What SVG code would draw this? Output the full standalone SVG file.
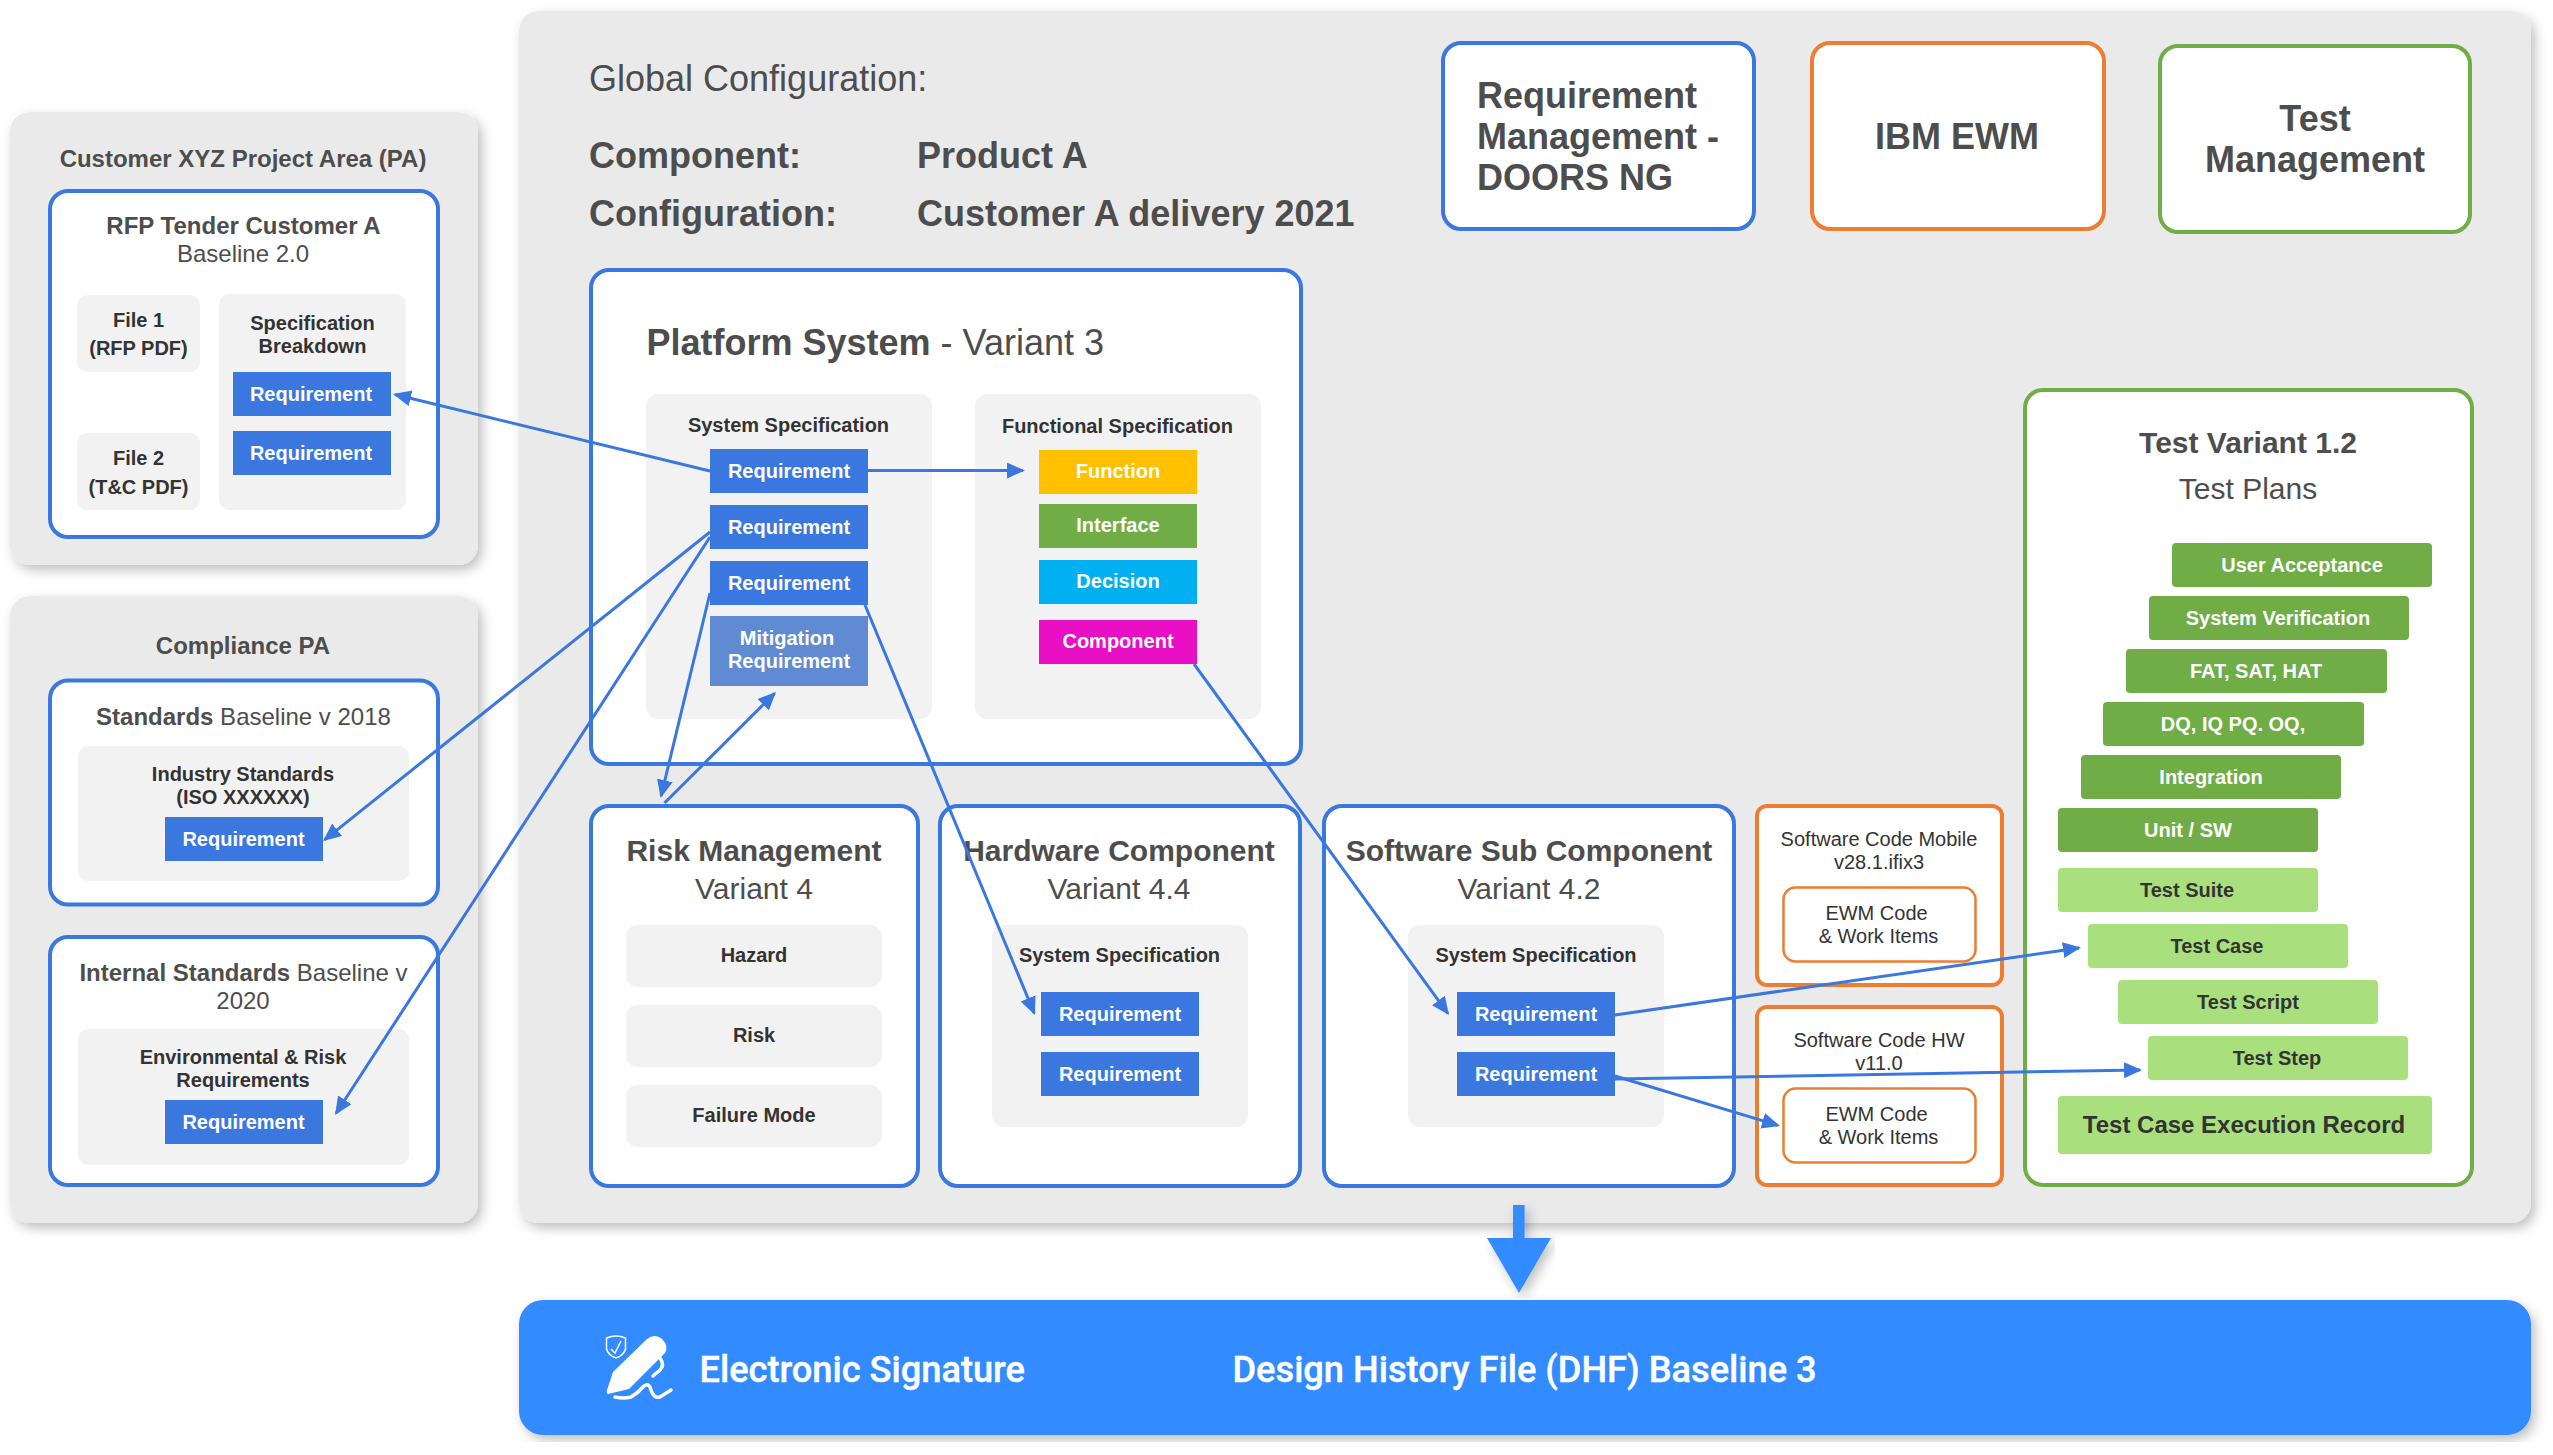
<svg xmlns="http://www.w3.org/2000/svg" width="2553" height="1455" viewBox="0 0 2553 1455">
<style>
text{font-family:"Liberation Sans",Arial,sans-serif}
.panel{fill:#eaeaea;filter:url(#sh)}
.bb{fill:#fff;stroke:#3a78e0;stroke-width:4}
.ob{fill:#fff;stroke:#ed7d31;stroke-width:4}
.oi{fill:#fff;stroke:#ed7d31;stroke-width:2.500}
.gb{fill:#fff;stroke:#70ad47;stroke-width:4}
.in{fill:#f2f2f2}
.req{fill:#3a78e0}
.dg{fill:#70ad47}
.lg{fill:#a9e07d}
.t24b{font-size:24px;font-weight:700;fill:#4d4d4d;text-anchor:middle}
.t24{font-size:24px;fill:#4d4d4d;text-anchor:middle}
.t30b{font-size:30px;font-weight:700;fill:#4d4d4d;text-anchor:middle}
.t30{font-size:30px;fill:#4d4d4d;text-anchor:middle}
.t36b{font-size:36px;font-weight:700;fill:#4d4d4d}
.t36{font-size:36px;fill:#4d4d4d}
.c{text-anchor:middle}
.s20{font-size:20px;font-weight:700;fill:#333;text-anchor:middle}
.w20{font-size:20px;font-weight:700;fill:#fff;text-anchor:middle}
.r20{font-size:20px;fill:#333;text-anchor:middle}
.foot{font-family:Roboto,"Liberation Sans",sans-serif;font-size:36.200px;font-weight:500;fill:#fff;stroke:#fff;stroke-width:0.400}
.con{fill:none;stroke:#3a78e0;stroke-width:3;marker-end:url(#ah)}
</style>
<defs>
<filter id="sh" x="-5%" y="-5%" width="110%" height="110%"><feDropShadow dx="4" dy="5" stdDeviation="6" flood-color="#000" flood-opacity="0.25"/></filter>
<marker id="ah" markerUnits="userSpaceOnUse" markerWidth="20" markerHeight="18" refX="16" refY="8" orient="auto"><path d="M0,0L18,8L0,16Z" fill="#3a78e0"/></marker>
</defs>

<g id="customer-pa">
<rect class="panel" x="10" y="112" width="468" height="453" rx="20"/>
<text class="t24b" x="243" y="167">Customer XYZ Project Area (PA)</text>
<rect class="bb" x="50" y="191" width="388" height="346" rx="18"/>
<text class="t24b" x="243.500" y="234">RFP Tender Customer A</text>
<text class="t24" x="243" y="262">Baseline 2.0</text>
<rect class="in" x="77" y="295" width="123" height="77" rx="10"/>
<text class="s20" x="138.500" y="327">File 1</text><text class="s20" x="138.500" y="355">(RFP PDF)</text>
<rect class="in" x="77" y="433" width="123" height="77" rx="10"/>
<text class="s20" x="138.500" y="465">File 2</text><text class="s20" x="138.500" y="494">(T&amp;C PDF)</text>
<rect class="in" x="219" y="294" width="187" height="216" rx="10"/>
<text class="s20" x="312.500" y="330">Specification</text><text class="s20" x="312.500" y="353">Breakdown</text>
<rect class="req" x="233" y="372" width="158" height="44"/><text class="w20" x="311" y="401">Requirement</text>
<rect class="req" x="233" y="431" width="158" height="44"/><text class="w20" x="311" y="460">Requirement</text>
</g>

<g id="compliance-pa">
<rect class="panel" x="10" y="596" width="468" height="627" rx="20"/>
<text class="t24b" x="243" y="654">Compliance PA</text>
<rect class="bb" x="50" y="680.500" width="388" height="224" rx="18"/>
<text class="t24" x="243.500" y="725"><tspan font-weight="700">Standards</tspan> Baseline v 2018</text>
<rect class="in" x="78" y="746" width="331" height="135" rx="10"/>
<text class="s20" x="243" y="781">Industry Standards</text><text class="s20" x="243" y="804">(ISO XXXXXX)</text>
<rect class="req" x="165" y="817" width="158" height="44"/><text class="w20" x="243.500" y="846">Requirement</text>
<rect class="bb" x="50" y="937" width="388" height="248" rx="18"/>
<text class="t24" x="243.500" y="981"><tspan font-weight="700">Internal Standards</tspan> Baseline v</text><text class="t24" x="243" y="1009">2020</text>
<rect class="in" x="78" y="1029" width="331" height="136" rx="10"/>
<text class="s20" x="243" y="1064">Environmental &amp; Risk</text><text class="s20" x="243" y="1087">Requirements</text>
<rect class="req" x="165" y="1100" width="158" height="44"/><text class="w20" x="243.500" y="1129">Requirement</text>
</g>

<g id="global-config">
<rect class="panel" x="519" y="11" width="2012" height="1212" rx="20"/>
<text class="t36" x="589" y="91">Global Configuration:</text>
<text class="t36b" x="589" y="168">Component:</text><text class="t36b" x="917" y="168">Product A</text>
<text class="t36b" x="589" y="226">Configuration:</text><text class="t36b" x="917" y="226">Customer A delivery 2021</text>
</g>

<g id="legend-doors">
<rect class="bb" x="1443" y="43" width="311" height="186" rx="18"/>
<text class="t36b" x="1477" y="108">Requirement</text><text class="t36b" x="1477" y="149">Management -</text><text class="t36b" x="1477" y="190">DOORS NG</text>
</g>
<g id="legend-ewm">
<rect class="ob" x="1812" y="43" width="292" height="186" rx="18"/>
<text class="t36b c" x="1957" y="149">IBM EWM</text>
</g>
<g id="legend-test">
<rect class="gb" x="2160" y="46" width="310" height="186" rx="18"/>
<text class="t36b c" x="2315" y="131">Test</text><text class="t36b c" x="2315" y="172">Management</text>
</g>

<g id="platform-system">
<rect class="bb" x="591" y="270" width="710" height="494" rx="18"/>
<text x="646.500" y="355" font-size="36" fill="#4d4d4d"><tspan font-weight="700">Platform System</tspan> - Variant 3</text>
<rect class="in" x="646" y="394" width="286" height="325" rx="12"/>
<text class="s20" x="788.500" y="432">System Specification</text>
<rect class="req" x="710" y="449" width="158" height="44"/><text class="w20" x="789" y="478">Requirement</text>
<rect class="req" x="710" y="505" width="158" height="44"/><text class="w20" x="789" y="534">Requirement</text>
<rect class="req" x="710" y="561" width="158" height="44"/><text class="w20" x="789" y="590">Requirement</text>
<rect x="710" y="616" width="158" height="70" fill="#608bd3"/><text class="w20" x="787" y="645">Mitigation</text><text class="w20" x="789" y="668">Requirement</text>
<rect class="in" x="975" y="394" width="286" height="325" rx="12"/>
<text class="s20" x="1117.500" y="433">Functional Specification</text>
<rect x="1039" y="450" width="158" height="44" fill="#ffc000"/><text class="w20" x="1118" y="478">Function</text>
<rect x="1039" y="504" width="158" height="44" fill="#70ad47"/><text class="w20" x="1118" y="532">Interface</text>
<rect x="1039" y="560" width="158" height="44" fill="#00b0f0"/><text class="w20" x="1118" y="588">Decision</text>
<rect x="1039" y="620" width="158" height="44" fill="#e90fc5"/><text class="w20" x="1118" y="648">Component</text>
</g>

<g id="risk-management">
<rect class="bb" x="591" y="806" width="327" height="380" rx="18"/>
<text class="t30b" x="754" y="861">Risk Management</text><text class="t30" x="754" y="899">Variant 4</text>
<rect class="in" x="626" y="925" width="256" height="62" rx="12"/><text class="s20" x="754" y="962">Hazard</text>
<rect class="in" x="626" y="1005" width="256" height="62" rx="12"/><text class="s20" x="754" y="1042">Risk</text>
<rect class="in" x="626" y="1085" width="256" height="62" rx="12"/><text class="s20" x="754" y="1122">Failure Mode</text>
</g>

<g id="hardware-component">
<rect class="bb" x="940" y="806" width="360" height="380" rx="18"/>
<text class="t30b" x="1119" y="861">Hardware Component</text><text class="t30" x="1119" y="899">Variant 4.4</text>
<rect class="in" x="992" y="925" width="256" height="202" rx="12"/>
<text class="s20" x="1119.500" y="962">System Specification</text>
<rect class="req" x="1041" y="992" width="158" height="44"/><text class="w20" x="1120" y="1021">Requirement</text>
<rect class="req" x="1041" y="1052" width="158" height="44"/><text class="w20" x="1120" y="1081">Requirement</text>
</g>

<g id="software-sub-component">
<rect class="bb" x="1324" y="806" width="410" height="380" rx="18"/>
<text class="t30b" x="1529" y="861">Software Sub Component</text><text class="t30" x="1529" y="899">Variant 4.2</text>
<rect class="in" x="1408" y="925" width="256" height="202" rx="12"/>
<text class="s20" x="1536" y="962">System Specification</text>
<rect class="req" x="1457" y="992" width="158" height="44"/><text class="w20" x="1536" y="1021">Requirement</text>
<rect class="req" x="1457" y="1052" width="158" height="44"/><text class="w20" x="1536" y="1081">Requirement</text>
</g>

<g id="software-code-mobile">
<rect class="ob" x="1757" y="806" width="245" height="179" rx="10"/>
<text class="r20" x="1879" y="846">Software Code Mobile</text><text class="r20" x="1879" y="869">v28.1.ifix3</text>
<rect class="oi" x="1783.500" y="887.500" width="192" height="74" rx="12"/>
<text class="r20" x="1876.500" y="920">EWM Code</text><text class="r20" x="1878.500" y="943">&amp; Work Items</text>
</g>
<g id="software-code-hw">
<rect class="ob" x="1757" y="1007" width="245" height="178" rx="10"/>
<text class="r20" x="1879" y="1047">Software Code HW</text><text class="r20" x="1879" y="1070">v11.0</text>
<rect class="oi" x="1783.500" y="1088.500" width="192" height="74" rx="12"/>
<text class="r20" x="1876.500" y="1121">EWM Code</text><text class="r20" x="1878.500" y="1144">&amp; Work Items</text>
</g>

<g id="test-variant">
<rect class="gb" x="2025" y="390" width="447" height="795" rx="18"/>
<text x="2248" y="453" font-size="30" font-weight="700" fill="#4d4d4d" text-anchor="middle">Test Variant 1.2</text>
<text x="2248" y="499" font-size="30" fill="#4d4d4d" text-anchor="middle">Test Plans</text>
<rect class="dg" x="2172" y="543" width="260" height="44" rx="4"/><text class="w20" x="2302" y="572">User Acceptance</text>
<rect class="dg" x="2149" y="596" width="260" height="44" rx="4"/><text class="w20" x="2278" y="625">System Verification</text>
<rect class="dg" x="2126" y="649" width="261" height="44" rx="4"/><text class="w20" x="2256" y="678">FAT, SAT, HAT</text>
<rect class="dg" x="2103" y="702" width="261" height="44" rx="4"/><text class="w20" x="2233" y="731">DQ, IQ PQ. OQ,</text>
<rect class="dg" x="2081" y="755" width="260" height="44" rx="4"/><text class="w20" x="2211" y="784">Integration</text>
<rect class="dg" x="2058" y="808" width="260" height="44" rx="4"/><text class="w20" x="2188" y="837">Unit / SW</text>
<rect class="lg" x="2058" y="868" width="260" height="44" rx="4"/><text class="s20" x="2187" y="897">Test Suite</text>
<rect class="lg" x="2088" y="924" width="260" height="44" rx="4"/><text class="s20" x="2217" y="953">Test Case</text>
<rect class="lg" x="2118" y="980" width="260" height="44" rx="4"/><text class="s20" x="2248" y="1009">Test Script</text>
<rect class="lg" x="2148" y="1036" width="260" height="44" rx="4"/><text class="s20" x="2277" y="1065">Test Step</text>
<rect class="lg" x="2058" y="1096" width="374" height="58" rx="4"/><text x="2244" y="1133" font-size="24" font-weight="700" fill="#333" text-anchor="middle">Test Case Execution Record</text>
</g>

<g id="dhf-arrow">
<path d="M1513,1205H1524.600V1238H1551L1519,1293L1487,1238H1513Z" fill="#338bff" filter="url(#sh)"/>
</g>

<g id="dhf-baseline">
<rect x="519" y="1300" width="2012" height="135" rx="24" fill="#338bff" filter="url(#sh)"/>
<g id="signature-icon">
<path d="M606.500,1338Q616,1334 625.500,1338V1349Q624,1355 616,1358Q608,1355 606.500,1349Z" fill="none" stroke="#fff" stroke-width="1.500"/>
<path d="M611,1349L615,1353L621,1341" fill="none" stroke="#fff" stroke-width="1.500"/>
<path d="M613,1372L647,1339Q655,1333 662,1339Q669,1346 665,1353L629,1389L608,1394Q606,1394 607,1390Z" fill="#fff"/>
<path d="M660,1358Q665,1365 660,1370L653,1376" fill="none" stroke="#fff" stroke-width="3.500" stroke-linecap="round"/>
<path d="M615,1397Q624,1399 631,1397Q638,1393 644,1386Q649,1382 651,1390Q654,1399 660,1397L671,1390" fill="none" stroke="#fff" stroke-width="3.500" stroke-linecap="round"/>
</g>
<text class="foot" x="699.500" y="1382">Electronic Signature</text>
<text class="foot" x="1232.500" y="1382">Design History File (DHF) Baseline 3</text>
</g>

<g id="connectors">
<path class="con" d="M710,471L395,394.500"/>
<path class="con" d="M868,470.500H1023"/>
<path class="con" d="M710,532L324.600,839.800"/>
<path class="con" d="M710,537L336.100,1113.300"/>
<path class="con" d="M710,593L661.100,796"/>
<path class="con" d="M664.500,803L774.600,693.400"/>
<path class="con" d="M865,605L1034.200,1013.200"/>
<path class="con" d="M1194,664L1447.800,1013.400"/>
<path class="con" d="M1615,1015L2079,947.900"/>
<path class="con" d="M1615,1079L2140,1070"/>
<path class="con" d="M1615,1076L1778,1125.400"/>
</g>
</svg>
